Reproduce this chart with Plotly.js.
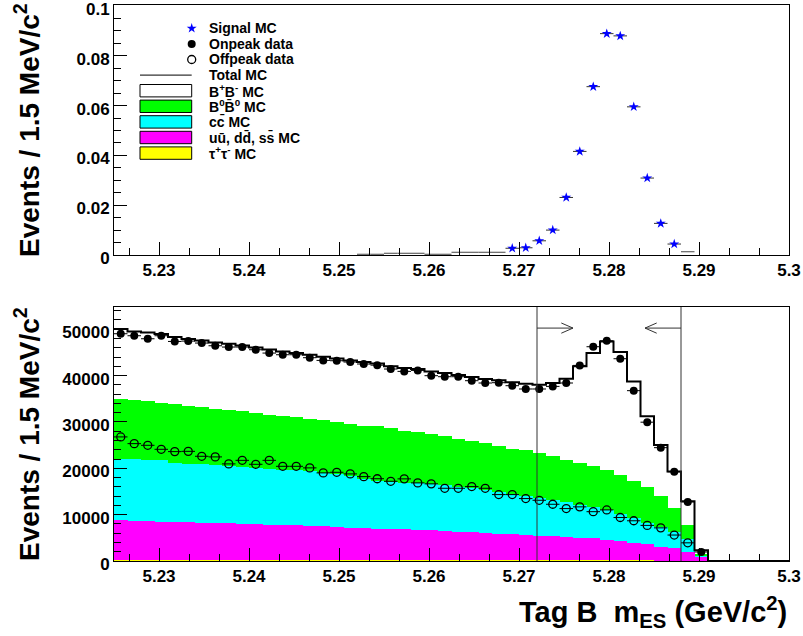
<!DOCTYPE html>
<html><head><meta charset="utf-8">
<script src="https://cdn.plot.ly/plotly-3.0.1.min.js"></script>
<style>html,body{margin:0;padding:0;background:#fff}#chart{width:803px;height:636px}</style>
</head><body><div id="chart"></div>
<script>
// ---------- data ----------
const xMin = 5.225, xMax = 5.3, binWidth = 0.0015, nBins = 50;
// Bottom panel: stacked MC, cumulative stack tops per 1.5 MeV bin (ROOT THStack style)
const totalMC = [50040,49530,49310,48960,48320,47890,47590,47160,46870,46510,
  46080,45650,45220,44870,44500,44070,43710,43280,42930,42600,
  41990,41630,41420,40910,40560,40130,39700,39270,38970,38540,
  38250,38040,38400,39330,41990,44870,47370,45080,38750,31210,
  25000,19320,12890,2300,0,0,0,0,0,0];
const cumB0 = [34950,34800,34590,34090,33940,33510,33230,32800,32650,32280,
  31930,31570,31360,30990,30640,30350,29910,29630,29200,29050,
  28700,28120,27840,27410,26900,26340,25820,25360,24750,24130,
  23900,23320,22700,21770,21050,20500,19700,18500,17300,15900,
  14100,11450,7700,1500,0,0,0,0,0,0];
const cumCC = [22030,21950,21880,21730,21160,21010,20860,20730,20510,20300,
  20150,19940,19720,19570,19350,19010,18710,18280,17780,17350,
  17100,16900,16750,16550,16300,16050,15750,15400,14980,14550,
  14120,13690,13250,12760,12180,11600,11000,10100,9350,8300,
  7250,6210,4800,1000,0,0,0,0,0,0];
const cumUDS = [8790,8730,8660,8510,8440,8370,8300,8230,8150,8010,
  7940,7870,7800,7720,7650,7500,7360,7220,7070,7000,
  6940,6900,6790,6640,6510,6360,6210,6070,5930,5780,
  5640,5500,5350,5210,5000,4900,4550,4300,3900,3700,
  3100,2800,2000,800,0,0,0,0,0,0];
const cumTau = [230,230,225,225,220,220,215,215,210,210,
  205,205,200,200,195,195,190,190,185,185,
  180,180,175,175,170,170,165,160,160,155,
  150,150,145,140,135,130,125,120,115,110,
  100,90,75,30,0,0,0,0,0,0];
const onpeak = [49030,48600,47950,48600,47370,47450,47020,46440,46160,46160,
  45580,44860,44500,44500,43860,43280,43210,42930,42500,42250,
  41420,40910,41120,39980,39760,39760,38900,38400,38470,37820,
  37110,37110,37670,38400,42200,46230,47520,43640,36750,29950,
  24450,19250,12750,1950];
const offpeak = [26770,25320,24960,24100,23600,23660,22590,22460,20950,21720,
  20860,21720,20430,20430,20090,19010,19140,18790,18200,17750,
  17200,17720,16850,16640,15690,15690,16060,15690,14330,14330,
  13470,13100,12240,11310,11680,10640,11020,9380,8680,7680,
  7150,5600,3920];
// Top panel: signal MC (normalised)
const signalBins = [29,30,31,32,33,34,35,36,37,38,39,40,41];
const signalMC = [0.0027,0.0029,0.0057,0.0100,0.0231,0.0416,0.0676,0.0889,0.0880,0.0595,0.0309,0.0127,0.0044];
const tailBins = [18,19,20,21,22,23,24,25,26,27,28,42];
const signalTail = [0.0003,0.0003,0.0007,0.0007,0.0007,0.0003,0.0003,0.0011,0.0011,0.0011,0.0011,0.0013];
// Selection window
const cutLow = 5.272, cutHigh = 5.288, arrowY = 50250;

const legendLabels = ['Signal MC','Onpeak data','Offpeak data','Total MC',
  'B<sup>+</sup>B<sup>-</sup> MC','B<sup>0</sup>B\u0304<sup>0</sup> MC','cc\u0304 MC',
  'uu\u0304, dd\u0304, ss\u0304 MC','\u03c4<sup>+</sup>\u03c4<sup>-</sup> MC'];
const colBpm = '#ffffff', colB0 = '#00ff00', colCC = '#00ffff', colUDS = '#ff00ff', colTau = '#ffff00';

// ---------- helpers ----------
const center = i => xMin + binWidth * (i + 0.5);
const centers = Array.from({length: nBins}, (_, i) => center(i));
const edges = Array.from({length: nBins + 1}, (_, i) => xMin + binWidth * i);
const FONT = 'Liberation Sans, Arial, Helvetica, sans-serif';
const tickFont = {family: FONT, size: 17, weight: 'bold', color: '#000'};

// geometry (pixels -> paper)
const L = 114, R = 789, T = 5, B = 561;
const px2x = p => (p - L) / (R - L);
const py2y = p => (B - p) / (B - T);

const traces = [];
// stacked histograms (cumulative, drawn top layer first)
const stackDefs = [[totalMC, colBpm], [cumB0, colB0], [cumCC, colCC], [cumUDS, colUDS], [cumTau, colTau]];
stackDefs.forEach(([vals, col]) => traces.push({
  type: 'bar', x: centers, y: vals, width: binWidth, xaxis: 'x2', yaxis: 'y2',
  marker: {color: col, line: {width: 0}}, hoverinfo: 'skip', showlegend: false
}));
// total MC step line
traces.push({
  type: 'scatter', mode: 'lines', x: edges, y: totalMC.concat([totalMC[nBins - 1]]),
  line: {shape: 'hv', color: '#000', width: 2}, xaxis: 'x2', yaxis: 'y2', showlegend: false
});
// offpeak
traces.push({
  type: 'scatter', mode: 'markers', x: offpeak.map((_, i) => center(i)), y: offpeak,
  marker: {symbol: 'circle-open', size: 8, color: '#000', line: {width: 1.3, color: '#000'}},
  error_x: {type: 'constant', value: binWidth / 2, width: 0, thickness: 1, color: '#000'},
  xaxis: 'x2', yaxis: 'y2', showlegend: false
});
// onpeak
traces.push({
  type: 'scatter', mode: 'markers', x: onpeak.map((_, i) => center(i)), y: onpeak,
  marker: {symbol: 'circle', size: 8, color: '#000'},
  error_x: {type: 'constant', value: binWidth / 2, width: 0, thickness: 1, color: '#000'},
  xaxis: 'x2', yaxis: 'y2', showlegend: false
});
// top: low signal bins (error bars only)
traces.push({
  type: 'scatter', mode: 'markers', x: tailBins.map(center), y: signalTail,
  marker: {size: 1, color: 'rgba(0,0,0,0)'},
  error_x: {type: 'constant', value: binWidth / 2, width: 0, thickness: 1, color: '#444'},
  xaxis: 'x', yaxis: 'y', showlegend: false
});
// top: signal MC stars
traces.push({
  type: 'scatter', mode: 'markers', x: signalBins.map(center), y: signalMC,
  marker: {symbol: 'star', size: 7.5, color: '#0000ff', line: {width: 0}},
  error_x: {type: 'constant', value: binWidth / 2, width: 0, thickness: 1, color: '#333'},
  xaxis: 'x', yaxis: 'y', showlegend: false
});

// ---------- custom ROOT-style legend ----------
const legY0 = 28.3, legStep = 15.6, symLeft = 140, symRight = 191.7, textLeft = 207;
const legYpx = legendLabels.map((_, i) => legY0 + legStep * i);
const markerStyles = [
  {symbol: 'star', size: 7.5, color: '#0000ff'},
  {symbol: 'circle', size: 8, color: '#000'},
  {symbol: 'circle-open', size: 8, color: '#000', line: {width: 1.3, color: '#000'}}
];
markerStyles.forEach((m, i) => traces.push({
  type: 'scatter', mode: 'markers', x: [px2x(symRight)], y: [py2y(legYpx[i])],
  marker: m, xaxis: 'x3', yaxis: 'y3', showlegend: false, hoverinfo: 'skip'
}));
const shapes = [];
shapes.push({type: 'line', xref: 'paper', yref: 'paper', x0: px2x(symLeft), x1: px2x(symRight),
  y0: py2y(legYpx[3]), y1: py2y(legYpx[3]), line: {color: '#000', width: 1}});
[colBpm, colB0, colCC, colUDS, colTau].forEach((c, k) => {
  const yc = legYpx[4 + k];
  shapes.push({type: 'rect', xref: 'paper', yref: 'paper', x0: px2x(symLeft), x1: px2x(symRight),
    y0: py2y(yc + 6.2), y1: py2y(yc - 6.2), fillcolor: c, line: {color: '#000', width: 1}});
});
// selection window lines and arrows
const yMax2 = 54800, arrowLen = 0.004, headLen = 0.0013, headHalf = 1100;
[cutLow, cutHigh].forEach(c => shapes.push({type: 'line', xref: 'x2', yref: 'y2', x0: c, x1: c, y0: 0, y1: yMax2,
  line: {color: '#333', width: 1}, layer: 'above'}));
[[cutLow, 1], [cutHigh, -1]].forEach(([c, d]) => {
  const tip = c + d * arrowLen;
  shapes.push({type: 'line', xref: 'x2', yref: 'y2', x0: c, x1: tip, y0: arrowY, y1: arrowY,
    line: {color: '#333', width: 1}, layer: 'above'});
  shapes.push({type: 'path', xref: 'x2', yref: 'y2',
    path: `M${tip - d * headLen},${arrowY + headHalf} L${tip},${arrowY} L${tip - d * headLen},${arrowY - headHalf}`,
    line: {color: '#333', width: 1}, layer: 'above'});
});

const annotations = legendLabels.map((t, i) => ({
  xref: 'paper', yref: 'paper', x: px2x(textLeft), y: py2y(legYpx[i]), xanchor: 'left', yanchor: 'middle',
  text: t, showarrow: false, font: {family: FONT, size: 14, weight: 'bold', color: '#000'}
}));
const yTitle = 'Events / 1.5 MeV/c<sup>2</sup>';
annotations.push({xref: 'paper', yref: 'paper', x: px2x(27), y: py2y(130), text: yTitle, textangle: -90,
  showarrow: false, xanchor: 'center', yanchor: 'middle', font: {family: FONT, size: 28, weight: 'bold', color: '#000'}});
annotations.push({xref: 'paper', yref: 'paper', x: px2x(27), y: py2y(434), text: yTitle, textangle: -90,
  showarrow: false, xanchor: 'center', yanchor: 'middle', font: {family: FONT, size: 28, weight: 'bold', color: '#000'}});
annotations.push({xref: 'paper', yref: 'paper', x: 1, y: py2y(612), text: 'Tag B\u00a0 m<sub>ES</sub> (GeV/c<sup>2</sup>)',
  showarrow: false, xanchor: 'right', yanchor: 'middle', font: {family: FONT, size: 29, weight: 'bold', color: '#000'}});

const xAxisBase = {
  range: [xMin, xMax], dtick: 0.01, tick0: 5.23, ticks: 'inside', ticklen: 13, tickwidth: 1, tickcolor: '#000',
  minor: {dtick: 0.01 / 3, tick0: 5.23, ticks: 'inside', ticklen: 7, tickwidth: 1, tickcolor: '#000', showgrid: false},
  showline: true, mirror: true, linecolor: '#000', linewidth: 1, showgrid: false, zeroline: false,
  tickfont: tickFont, fixedrange: true, ticklabeloverflow: 'allow'
};
const yAxisBase = {
  ticks: 'inside', ticklen: 13, tickwidth: 1, tickcolor: '#000',
  showline: true, mirror: true, linecolor: '#000', linewidth: 1, showgrid: false, zeroline: false,
  tickfont: tickFont, fixedrange: true, ticklabeloverflow: 'allow', ticklabelshift: 3
};
const layout = {
  width: 803, height: 636, margin: {l: L, r: 803 - R, t: T, b: 636 - B},
  paper_bgcolor: '#fff', plot_bgcolor: 'rgba(0,0,0,0)',
  barmode: 'overlay', bargap: 0, showlegend: false,
  xaxis: Object.assign({}, xAxisBase, {domain: [0, 1], anchor: 'y'}),
  yaxis: Object.assign({}, yAxisBase, {domain: [py2y(255), 1], anchor: 'x', range: [0, 0.1004], dtick: 0.02,
    minor: {dtick: 0.005, ticks: 'inside', ticklen: 7, tickcolor: '#000', showgrid: false}}),
  xaxis2: Object.assign({}, xAxisBase, {domain: [0, 1], anchor: 'y2'}),
  yaxis2: Object.assign({}, yAxisBase, {domain: [0, py2y(307)], anchor: 'x2', range: [0, yMax2], dtick: 10000,
    tickformat: 'd', minor: {dtick: 2000, ticks: 'inside', ticklen: 7, tickcolor: '#000', showgrid: false}}),
  xaxis3: {domain: [0, 1], anchor: 'y3', range: [0, 1], visible: false, fixedrange: true},
  yaxis3: {domain: [0, 1], anchor: 'x3', range: [0, 1], visible: false, fixedrange: true},
  shapes: shapes, annotations: annotations
};
Plotly.newPlot('chart', traces, layout, {displayModeBar: false, staticPlot: true});
</script></body></html>
